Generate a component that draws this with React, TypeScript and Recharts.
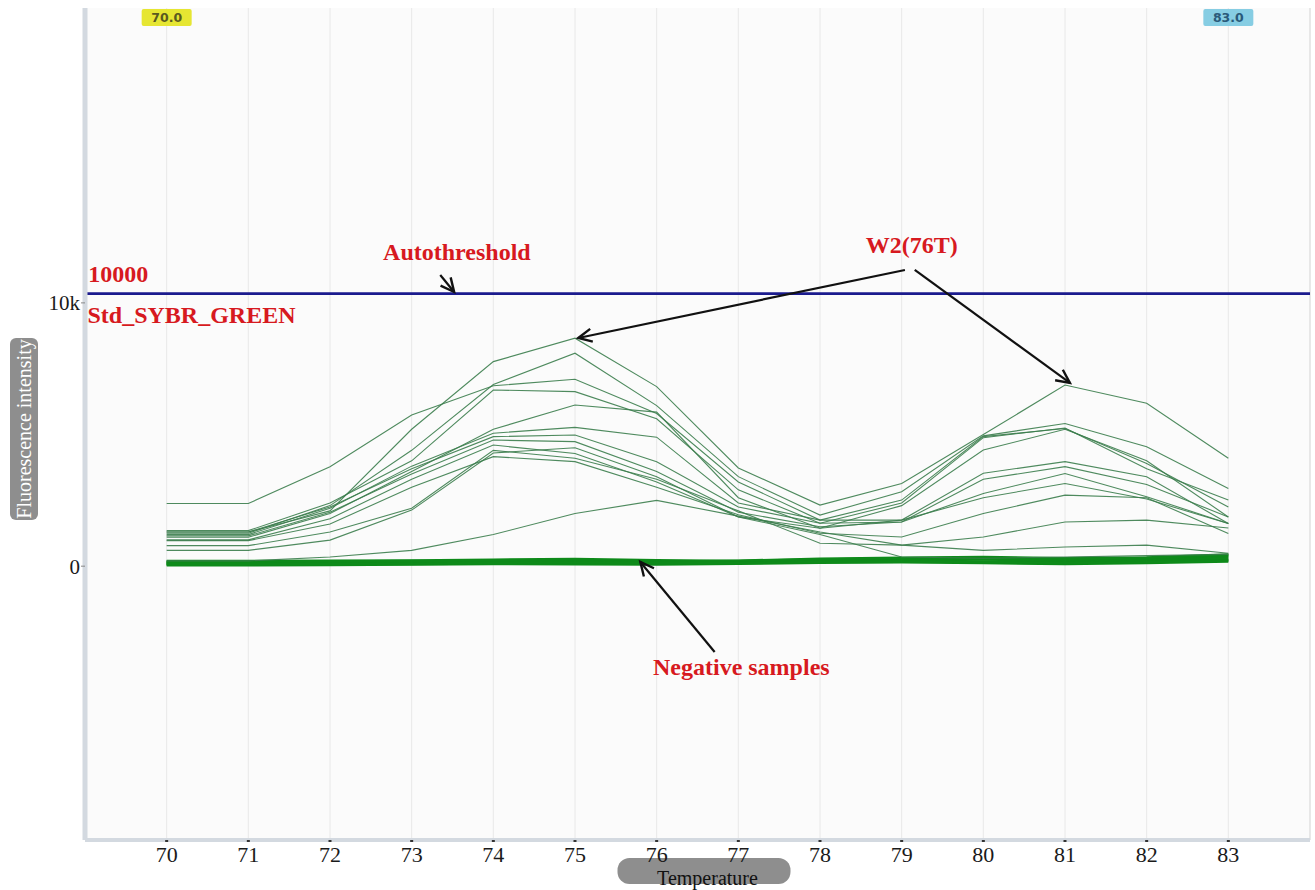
import React from 'react';
import { LineChart, Line, XAxis, YAxis, CartesianGrid, ReferenceLine, ReferenceDot } from 'recharts';

const temps = [70, 71, 72, 73, 74, 75, 76, 77, 78, 79, 80, 81, 82, 83];
const tempTicks = [70, 71, 72, 73, 74, 75, 76, 77, 78, 79, 80, 81, 82, 83];
const fluoTicks = [0, 10000];

// positive samples (fluorescence)
const w2 = [1300, 1300, 2100, 5200, 7770, 8660, 6820, 3730, 2320, 3140, 5000, 6880, 6190, 4100];
const p2 = [1250, 1250, 2300, 4400, 6900, 8090, 6100, 3400, 1940, 2830, 4950, 5420, 4540, 2950];
const p3 = [2380, 2380, 3780, 5740, 6850, 7100, 5800, 3200, 1750, 2510, 4920, 5230, 3900, 2250];
const p4 = [1350, 1350, 2400, 4000, 6690, 6630, 5600, 2900, 1630, 2400, 4880, 5250, 3700, 2510];
const p5 = [1100, 1100, 2000, 3600, 5200, 6120, 5850, 2600, 1440, 2300, 4410, 5200, 4000, 1870];
const p6 = [1200, 1200, 2200, 3800, 5050, 5270, 4900, 2400, 1750, 1750, 3530, 3970, 3400, 1620];
const p7 = [1300, 1300, 2250, 3700, 4920, 4980, 3970, 2250, 1630, 1680, 3300, 3780, 3100, 1870];
const p8 = [1150, 1150, 2050, 3500, 4790, 4730, 3600, 2050, 1500, 1680, 2760, 3520, 2640, 1620];
const p9 = [1000, 1000, 1800, 3300, 4600, 4280, 3200, 1870, 1440, 1750, 2600, 3140, 2550, 1620];
const p10 = [970, 970, 1600, 3000, 4160, 3970, 3000, 1950, 1250, 1110, 2000, 2700, 2600, 1240];
const p11 = [780, 780, 1300, 2200, 4400, 4100, 3300, 2100, 870, 800, 1110, 1680, 1750, 1450];
const p12 = [600, 600, 990, 2130, 4300, 4500, 3400, 1870, 1200, 350, 300, 350, 400, 450];
const low = [200, 200, 350, 600, 1200, 2000, 2500, 1900, 1300, 800, 600, 730, 800, 490];

// negative samples
const n1 = [150, 150, 160, 180, 200, 220, 190, 170, 220, 260, 300, 230, 280, 380];
const n2 = [100, 100, 110, 130, 150, 160, 140, 180, 240, 280, 250, 200, 240, 330];
const n3 = [60, 60, 70, 80, 100, 120, 110, 150, 200, 220, 180, 150, 200, 280];
const n4 = [200, 200, 210, 220, 250, 270, 230, 200, 260, 300, 320, 260, 310, 420];
const n5 = [120, 120, 100, 90, 110, 130, 150, 190, 210, 190, 140, 110, 170, 230];
const n6 = [30, 30, 40, 60, 80, 70, 60, 90, 130, 150, 120, 80, 120, 180];
const n7 = [170, 170, 180, 200, 190, 180, 170, 210, 280, 320, 350, 300, 330, 450];
const n8 = [80, 80, 90, 100, 120, 140, 120, 120, 160, 170, 160, 120, 150, 210];

const autoThreshold = 10350;

const positiveSeries = { w2, p2, p3, p4, p5, p6, p7, p8, p9, p10, p11, p12, low };
const negativeSeries = { n1, n2, n3, n4, n5, n6, n7, n8 };

const data = temps.map((t, i) => {
  const row: Record<string, number> = { t };
  Object.entries(positiveSeries).forEach(([k, arr]) => (row[k] = arr[i]));
  Object.entries(negativeSeries).forEach(([k, arr]) => (row[k] = arr[i]));
  return row;
});

const notes = [
  { x: 69.04, y: 10794, text: '10000' },
  { x: 69.03, y: 9237, text: 'Std_SYBR_GREEN' },
  { x: 72.65, y: 11630, text: 'Autothreshold' },
  { x: 78.56, y: 11896, text: 'W2(76T)' },
  { x: 75.955, y: -4132, text: 'Negative samples' },
];

const arrows = [
  { x1: 79.04, y1: 11250, x2: 75.04, y2: 8667 },
  { x1: 79.16, y1: 11250, x2: 81.06, y2: 6958 },
  { x1: 76.71, y1: -3259, x2: 75.8, y2: 160 },
  { x1: 73.35, y1: 11060, x2: 73.52, y2: 10414 },
];

const markers = [
  { x: 70, text: '70.0', fill: '#e6e632', color: '#5a5a20' },
  { x: 83, text: '83.0', fill: '#86cde3', color: '#2a5a7a' },
];

const SERIF = '"Liberation Serif", "Times New Roman", serif';

const ArrowShape = (p: any) => {
  const { x1, y1, x2, y2 } = p;
  const ang = Math.atan2(y2 - y1, x2 - x1);
  const L = 15;
  const a1 = ang + Math.PI - 0.45;
  const a2 = ang + Math.PI + 0.45;
  const d = `M ${x2 + L * Math.cos(a1)} ${y2 + L * Math.sin(a1)} L ${x2} ${y2} L ${x2 + L * Math.cos(a2)} ${y2 + L * Math.sin(a2)}`;
  return (
    <g>
      <line x1={x1} y1={y1} x2={x2} y2={y2} stroke="#111" strokeWidth={2.2} />
      <path d={d} fill="none" stroke="#111" strokeWidth={2.4} />
    </g>
  );
};

const noteShape = (text: string) => (p: any) => (
  <text x={p.cx} y={p.cy} fill="#d71920" fontFamily={SERIF} fontWeight="bold" fontSize={24}>
    {text}
  </text>
);

const markerShape = (m: any) => (p: any) => (
  <g>
    <rect x={p.cx - 25} y={p.cy + 1} width={50} height={17} rx={2} fill={m.fill} />
    <text x={p.cx} y={p.cy + 14} textAnchor="middle" fill={m.color} fontFamily="DejaVu Sans, sans-serif" fontWeight="bold" fontSize={12.5}>
      {m.text}
    </text>
  </g>
);

const YLabel = (props: any) => {
  const vb = props.viewBox || { x: 0, y: 8, width: 85, height: 832 };
  const cy = vb.y + vb.height / 2 + 5;
  return (
    <g>
      <rect x={10} y={cy - 91} width={28} height={182} rx={6} fill="#8e8e8e" />
      <text x={24} y={cy} transform={`rotate(-90, 24, ${cy})`} textAnchor="middle" dominantBaseline="central" fill="#ffffff" fontFamily={SERIF} fontSize={20}>
        Fluorescence intensity
      </text>
    </g>
  );
};

const XLabel = (props: any) => {
  const vb = props.viewBox || { x: 85, y: 840, width: 1225, height: 50 };
  const cx = vb.x + vb.width / 2 + 6;
  return (
    <g>
      <rect x={cx - 86} y={858} width={173} height={26} rx={12} fill="#8e8e8e" />
      <text x={cx + 4} y={885} textAnchor="middle" fill="#111" fontFamily={SERIF} fontSize={20}>
        Temperature
      </text>
    </g>
  );
};

export default function App() {
  return (
    <div style={{ position: 'absolute', left: 0, top: 0, width: 1315, height: 890, background: '#ffffff' }}>
      <LineChart width={1315} height={890} data={data} margin={{ top: 8, right: 5, bottom: 0, left: 0 }}>
        <CartesianGrid horizontal={false} vertical={true} stroke="#e8e8e8" fill="#fbfbfb" />
        <XAxis
          dataKey="t"
          type="number"
          domain={[69, 84]}
          ticks={tempTicks}
          allowDataOverflow
          height={50}
          axisLine={{ stroke: '#d3d9e0', strokeWidth: 4 }}
          tickLine={{ stroke: '#333', strokeWidth: 3 }}
          tickSize={2}
          tickMargin={4}
          tick={{ fill: '#1a1a1a', fontFamily: SERIF, fontSize: 22 }}
          label={{ content: XLabel } as any}
        />
        <YAxis
          type="number"
          domain={[-10400, 21200]}
          ticks={fluoTicks}
          allowDataOverflow
          width={85}
          axisLine={{ stroke: '#d3d9e0', strokeWidth: 5 }}
          tickLine={{ stroke: '#888', strokeWidth: 1 }}
          tickSize={4}
          tickMargin={1}
          tickFormatter={(v: number) => (v === 10000 ? '10k' : String(v))}
          tick={{ fill: '#1a1a1a', fontFamily: SERIF, fontSize: 21 }}
          label={{ content: YLabel } as any}
        />
        <ReferenceLine x={84} stroke="#dddddd" strokeWidth={1} />
        {Object.keys(negativeSeries).map((k) => (
          <Line key={k} dataKey={k} type="linear" stroke="#0e8a1a" strokeWidth={2.4} dot={false} isAnimationActive={false} />
        ))}
        {Object.keys(positiveSeries).map((k) => (
          <Line key={k} dataKey={k} type="linear" stroke="#3b7d4c" strokeOpacity={0.9} strokeWidth={1.1} dot={false} isAnimationActive={false} />
        ))}
        <ReferenceLine y={autoThreshold} stroke="#1b1b8e" strokeWidth={2.6} />
        {arrows.map((a, i) => (
          <ReferenceLine
            key={'a' + i}
            segment={[{ x: a.x1, y: a.y1 }, { x: a.x2, y: a.y2 }]}
            shape={ArrowShape}
            ifOverflow="visible"
          />
        ))}
        {notes.map((n, i) => (
          <ReferenceDot key={'n' + i} x={n.x} y={n.y} ifOverflow="visible" shape={noteShape(n.text)} />
        ))}
        {markers.map((m, i) => (
          <ReferenceDot key={'m' + i} x={m.x} y={21200} ifOverflow="visible" shape={markerShape(m)} />
        ))}
      </LineChart>
    </div>
  );
}
